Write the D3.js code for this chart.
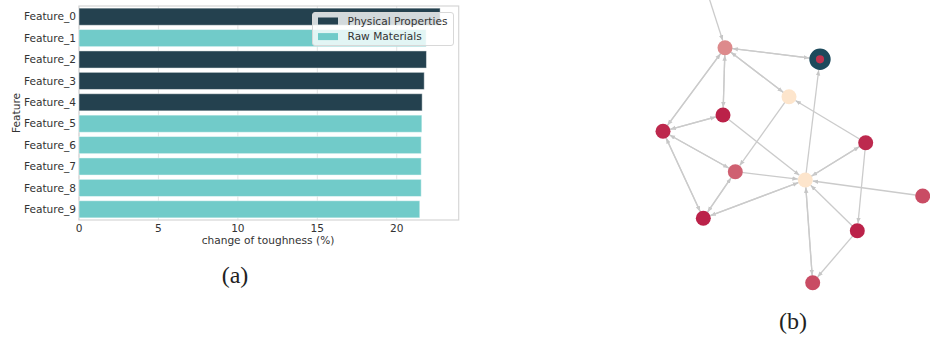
<!DOCTYPE html>
<html>
<head>
<meta charset="utf-8">
<script src="https://cdn.jsdelivr.net/npm/d3@7"></script>
<style>
  body { margin: 0; background: #fff; }
</style>
</head>
<body>
<div id="chart"></div>
<script>
// datos del panel (a)
const features = ["Feature_0", "Feature_1", "Feature_2", "Feature_3", "Feature_4",
                  "Feature_5", "Feature_6", "Feature_7", "Feature_8", "Feature_9"];
const toughness = [22.73, 21.85, 21.87, 21.73, 21.6, 21.58, 21.54, 21.54, 21.54, 21.45];
const groups = ["Physical Properties", "Raw Materials", "Physical Properties", "Physical Properties",
                "Physical Properties", "Raw Materials", "Raw Materials", "Raw Materials",
                "Raw Materials", "Raw Materials"];
const groupNames = ["Physical Properties", "Raw Materials"];
const xTicks = [0, 5, 10, 15, 20];

// datos del panel (b): nodos con posición del layout y valor
const nodeIds = ["ext", "A", "B", "C", "D", "E", "F", "G", "H", "I", "J", "K", "L"];
const nodeX = [101.7, 125, 220, 189, 123, 63, 265.7, 135.3, 205.3, 322.7, 103.3, 257.3, 212.7];
const nodeY = [-25, 47.7, 59.3, 96.7, 115, 131.3, 142.7, 171.7, 180, 196, 218.3, 230.7, 282.7];
const nodeValue = [0.5, 0.5, 1, 0, 1, 0.97, 0.965, 0.7, 0, 0.8, 1, 1, 0.8];
const edges = [
  ["ext", "A"], ["A", "B"], ["B", "A"], ["A", "C"], ["C", "A"], ["A", "D"], ["D", "A"],
  ["A", "E"], ["E", "A"], ["D", "E"], ["E", "D"], ["E", "G"], ["G", "E"], ["E", "J"], ["J", "E"],
  ["D", "H"], ["C", "G"], ["G", "H"], ["G", "J"], ["J", "G"], ["H", "J"], ["J", "H"],
  ["H", "B"], ["F", "C"], ["F", "H"], ["H", "F"], ["F", "K"], ["I", "H"], ["K", "H"],
  ["H", "L"], ["L", "H"], ["K", "L"]
];
const focusNode = "B";

const width = 930, height = 339;
const sans = "'DejaVu Sans', sans-serif";
const serif = "'Liberation Serif', 'DejaVu Serif', serif";
const fs = 10.6;

const svg = d3.select("#chart").append("svg")
  .attr("width", width)
  .attr("height", height)
  .style("font-family", sans);

svg.append("rect").attr("width", width).attr("height", height).attr("fill", "#fff");

// ---------- Panel (a): barras horizontales ----------
const x = d3.scaleLinear().domain([0, 23.9]).range([79, 458.7]);
const y = d3.scaleBand().domain(features).range([6, 220]).paddingInner(0.2).paddingOuter(0.1);
const color = d3.scaleOrdinal().domain(groupNames).range(["#24414f", "#71cbc9"]);

const gA = svg.append("g");

// grid vertical
gA.selectAll(".grid")
  .data(xTicks)
  .join("line")
  .attr("x1", d => x(d))
  .attr("x2", d => x(d))
  .attr("y1", 6)
  .attr("y2", 220)
  .attr("stroke", "#e3e3e3")
  .attr("stroke-width", 1);

// marco
gA.append("rect")
  .attr("x", 79).attr("y", 6)
  .attr("width", 458.7 - 79).attr("height", 214)
  .attr("fill", "none")
  .attr("stroke", "#d6d6d6")
  .attr("stroke-width", 1.2);

gA.selectAll(".bar")
  .data(features)
  .join("rect")
  .attr("x", x(0))
  .attr("y", d => y(d))
  .attr("width", (d, i) => x(toughness[i]) - x(0))
  .attr("height", y.bandwidth())
  .attr("fill", (d, i) => color(groups[i]))
  .attr("stroke", "#ffffff")
  .attr("stroke-opacity", 0.45)
  .attr("stroke-width", 1);

// etiquetas eje y
gA.selectAll(".ylab")
  .data(features)
  .join("text")
  .attr("x", 76)
  .attr("y", d => y(d) + y.bandwidth() / 2)
  .attr("dy", "0.35em")
  .attr("text-anchor", "end")
  .attr("font-size", fs)
  .attr("fill", "#333")
  .text(d => d);

// etiquetas eje x
gA.selectAll(".xlab")
  .data(xTicks)
  .join("text")
  .attr("x", d => x(d))
  .attr("y", 232)
  .attr("text-anchor", "middle")
  .attr("font-size", fs)
  .attr("fill", "#333")
  .text(d => d);

gA.append("text")
  .attr("x", 268)
  .attr("y", 243.5)
  .attr("text-anchor", "middle")
  .attr("font-size", fs)
  .attr("fill", "#333")
  .text("change of toughness (%)");

gA.append("text")
  .attr("transform", "translate(19.5,113) rotate(-90)")
  .attr("text-anchor", "middle")
  .attr("font-size", fs)
  .attr("fill", "#333")
  .text("Feature");

// leyenda
const legend = gA.append("g");
legend.append("rect")
  .attr("x", 312.5).attr("y", 12.5)
  .attr("width", 141).attr("height", 33)
  .attr("rx", 2.5)
  .attr("fill", "#fff")
  .attr("fill-opacity", 0.8)
  .attr("stroke", "#d8d8d8")
  .attr("stroke-width", 1);

groupNames.forEach((g, i) => {
  const cy = 21 + i * 15.6;
  legend.append("rect")
    .attr("x", 318).attr("y", cy - 3.5)
    .attr("width", 20).attr("height", 7)
    .attr("fill", color(g));
  legend.append("text")
    .attr("x", 347.5).attr("y", cy)
    .attr("dy", "0.35em")
    .attr("font-size", fs)
    .attr("fill", "#333")
    .text(g);
});

svg.append("text")
  .attr("x", 235).attr("y", 283)
  .attr("text-anchor", "middle")
  .style("font-family", serif)
  .attr("font-size", 24)
  .attr("fill", "#222")
  .text("(a)");

// ---------- Panel (b): grafo ----------
const gx = d3.scaleLinear().domain([0, 330]).range([600, 930]);
const gy = d3.scaleLinear().domain([0, 339]).range([0, 339]);
const nodeColor = d3.scaleLinear().domain([0, 0.5, 1]).range(["#fde5cc", "#dd8a8c", "#bb2249"]);

const nodos = nodeIds.map((id, i) => ({ id, x: gx(nodeX[i]), y: gy(nodeY[i]), v: nodeValue[i] }));
const porId = new Map(nodos.map(n => [n.id, n]));
const radio = 7.5;

svg.append("defs").append("marker")
  .attr("id", "flecha")
  .attr("viewBox", "0 0 10 10")
  .attr("refX", 10).attr("refY", 5)
  .attr("markerWidth", 5.5).attr("markerHeight", 5.5)
  .attr("markerUnits", "userSpaceOnUse")
  .attr("orient", "auto")
  .append("path")
  .attr("d", "M0,1 L10,5 L0,9 Z")
  .attr("fill", "#c6c6c6");

const gB = svg.append("g");

gB.selectAll(".edge")
  .data(edges)
  .join("line")
  .each(function (e) {
    const s = porId.get(e[0]), t = porId.get(e[1]);
    const dx = t.x - s.x, dy = t.y - s.y, len = Math.hypot(dx, dy);
    const rt = e[1] === focusNode ? 10.8 : radio;
    d3.select(this)
      .attr("x1", s.x).attr("y1", s.y)
      .attr("x2", t.x - dx / len * rt)
      .attr("y2", t.y - dy / len * rt);
  })
  .attr("stroke", "#cbcbcb")
  .attr("stroke-width", 1.3)
  .attr("marker-end", "url(#flecha)");

gB.selectAll(".node")
  .data(nodos.filter(n => n.id !== "ext"))
  .join("circle")
  .attr("cx", d => d.x)
  .attr("cy", d => d.y)
  .attr("r", d => d.id === focusNode ? 7.4 : radio)
  .attr("fill", d => d.id === focusNode ? "#c0334f" : nodeColor(d.v))
  .attr("stroke", d => d.id === focusNode ? "#1d4a5c" : "none")
  .attr("stroke-width", d => d.id === focusNode ? 6.6 : 0);

svg.append("text")
  .attr("x", 793).attr("y", 329)
  .attr("text-anchor", "middle")
  .style("font-family", serif)
  .attr("font-size", 24)
  .attr("fill", "#222")
  .text("(b)");
</script>
</body>
</html>
